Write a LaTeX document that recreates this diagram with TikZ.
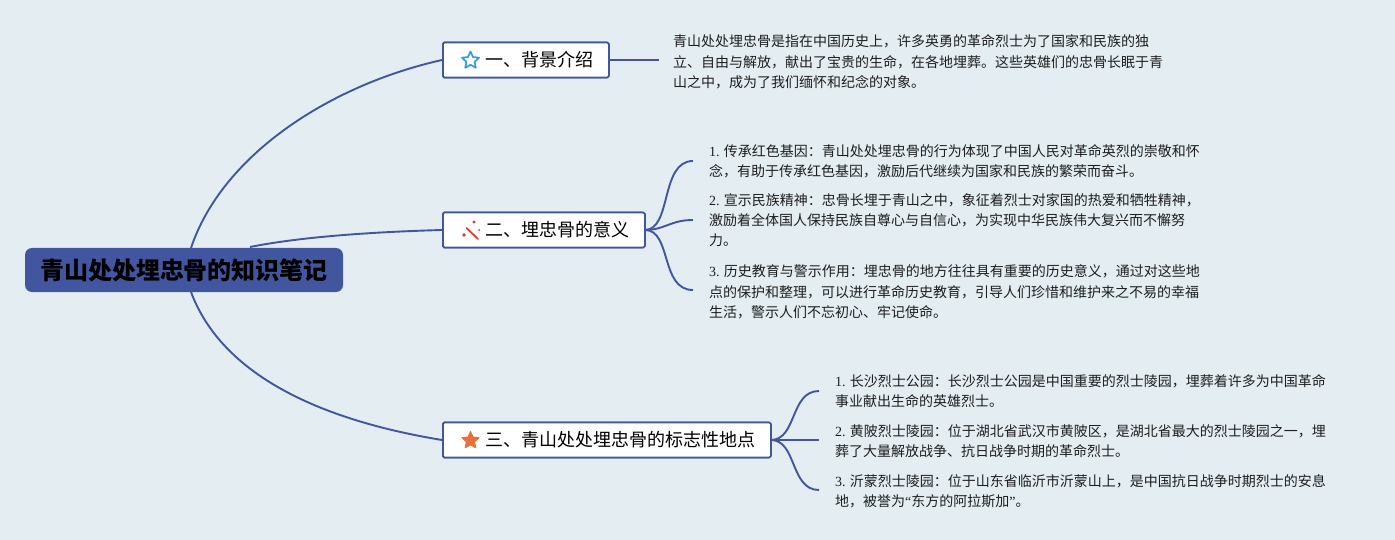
\documentclass[tikz,border=0pt]{standalone}
\usepackage{fontspec}
\setmainfont{Liberation Serif}
\newfontfamily\cjk{Noto Sans CJK SC}
\usetikzlibrary{shapes.geometric}
\definecolor{bgc}{HTML}{E4EDF2}
\definecolor{linec}{HTML}{41569F}
\definecolor{rootc}{HTML}{41569F}
\definecolor{inkc}{HTML}{1E1E1E}
\definecolor{bluestar}{HTML}{2E9FDB}
\definecolor{orangestar}{HTML}{E8703A}
\definecolor{wandc}{HTML}{D93A30}
\tikzset{
  x=1pt,y=-1pt,
  rootbox/.style={fill=rootc,rounded corners=7pt,text=black,minimum width=318pt,minimum height=44pt,inner sep=0pt,font=\cjk\fontsize{24}{24}\selectfont\bfseries},
  topicbox/.style={draw=linec,line width=1.8pt,fill=white,rounded corners=1.5pt,text=black,minimum height=35pt,inner ysep=0pt,inner xsep=15pt,anchor=west,font=\cjk\fontsize{18}{18}\selectfont},
  notebox/.style={anchor=west,align=left,text=inkc,inner ysep=0pt,inner xsep=0pt,font=\cjk\fontsize{14}{20.3}\selectfont},
  conn/.style={draw=linec,line width=1.9pt},
  blueicon/.style={star,star points=5,star point ratio=2.1,draw=bluestar,line width=1.7pt,line join=round,minimum size=18pt,inner sep=0pt},
  orangeicon/.style={star,star points=5,star point ratio=2.1,fill=orangestar,draw=orangestar,line join=round,line width=1pt,minimum size=18pt,inner sep=0pt},
  wand/.style={draw=wandc,line width=1.7pt,line cap=round},
  wanddot/.style={fill=wandc},
}
\newcommand{\lat}[1]{{\rmfamily #1}}
\newcommand{\toptext}[1]{\hspace*{28pt}\raisebox{-1pt}{#1}}
\begin{document}
\begin{tikzpicture}
\useasboundingbox[fill=bgc] (0,0) rectangle (1395,540);
\coordinate (rootA) at (191,248);
\coordinate (rootB) at (250,247);
\coordinate (rootC) at (191,292);

\node[topicbox,minimum width=165pt] (ta) at (442,60) {};
\node[topicbox,minimum width=201pt] (tb) at (442,230) {};
\node[topicbox,minimum width=327pt] (tc) at (442,440) {};

\node[notebox,inner xsep=14pt] (na) at (659,62) {青山处处埋忠骨是指在中国历史上，许多英勇的革命烈士为了国家和民族的独\\立、自由与解放，献出了宝贵的生命，在各地埋葬。这些英雄们的忠骨长眠于青\\山之中，成为了我们缅怀和纪念的对象。};
\node[notebox,inner xsep=16pt] (nb1) at (693,161) {\lat{1.} 传承红色基因：青山处处埋忠骨的行为体现了中国人民对革命英烈的崇敬和怀\\念，有助于传承红色基因，激励后代继续为国家和民族的繁荣而奋斗。};
\node[notebox,inner xsep=16pt] (nb2) at (693,220) {\lat{2.} 宣示民族精神：忠骨长埋于青山之中，象征着烈士对家国的热爱和牺牲精神，\\激励着全体国人保持民族自尊心与自信心，为实现中华民族伟大复兴而不懈努\\力。};
\node[notebox,inner xsep=16pt] (nb3) at (693,292) {\lat{3.} 历史教育与警示作用：埋忠骨的地方往往具有重要的历史意义，通过对这些地\\点的保护和整理，可以进行革命历史教育，引导人们珍惜和维护来之不易的幸福\\生活，警示人们不忘初心、牢记使命。};
\node[notebox,inner xsep=16pt] (nc1) at (819,391) {\lat{1.} 长沙烈士公园：长沙烈士公园是中国重要的烈士陵园，埋葬着许多为中国革命\\事业献出生命的英雄烈士。};
\node[notebox,inner xsep=16pt] (nc2) at (819,441) {\lat{2.} 黄陂烈士陵园：位于湖北省武汉市黄陂区，是湖北省最大的烈士陵园之一，埋\\葬了大量解放战争、抗日战争时期的革命烈士。};
\node[notebox,inner xsep=16pt] (nc3) at (819,491) {\lat{3.} 沂蒙烈士陵园：位于山东省临沂市沂蒙山上，是中国抗日战争时期烈士的安息\\地，被誉为\lat{“}东方的阿拉斯加\lat{”}。};

\draw[conn] (rootA) .. controls (222,155) and (330,85) .. (ta.west);
\draw[conn] (rootB) .. controls (300,237) and (370,232) .. (tb.west);
\draw[conn] (rootC) .. controls (222,375) and (320,420) .. (tc.west);
\draw[conn] (ta.east) -- (ta.east -| na.west);
\draw[conn] (tb.east) .. controls (672,230) and (660,161) .. (nb1.west);
\draw[conn] (tb.east) .. controls (665,230) and (670,220) .. (nb2.west);
\draw[conn] (tb.east) .. controls (672,230) and (660,290) .. ([yshift=2pt]nb3.west);
\draw[conn] (tc.east) .. controls (797,440) and (790,391) .. (nc1.west);
\draw[conn] (tc.east) -- (tc.east -| nc2.west);
\draw[conn] (tc.east) .. controls (797,440) and (790,490) .. ([yshift=1pt]nc3.west);

\node[rootbox] (rootlabel) at (184,270) {青山处处埋忠骨的知识笔记};
\node[topicbox,minimum width=165pt] (tal) at (442,60) {\toptext{一、背景介绍}};
\node[topicbox,minimum width=201pt] (tbl) at (442,230) {\toptext{二、埋忠骨的意义}};
\node[topicbox,minimum width=327pt] (tcl) at (442,440) {\toptext{三、青山处处埋忠骨的标志性地点}};

\node[blueicon] (ia) at (470.5,60.5) {};
\node[orangeicon] (ic) at (470.5,440.5) {};
\draw[wand] (466.5,228) -- (478,239);
\fill[wanddot] (474,222) circle (1.6pt);
\fill[wanddot] (464,235) circle (1.9pt);
\fill[wanddot] (479,230) circle (1pt);
\end{tikzpicture}
\end{document}
